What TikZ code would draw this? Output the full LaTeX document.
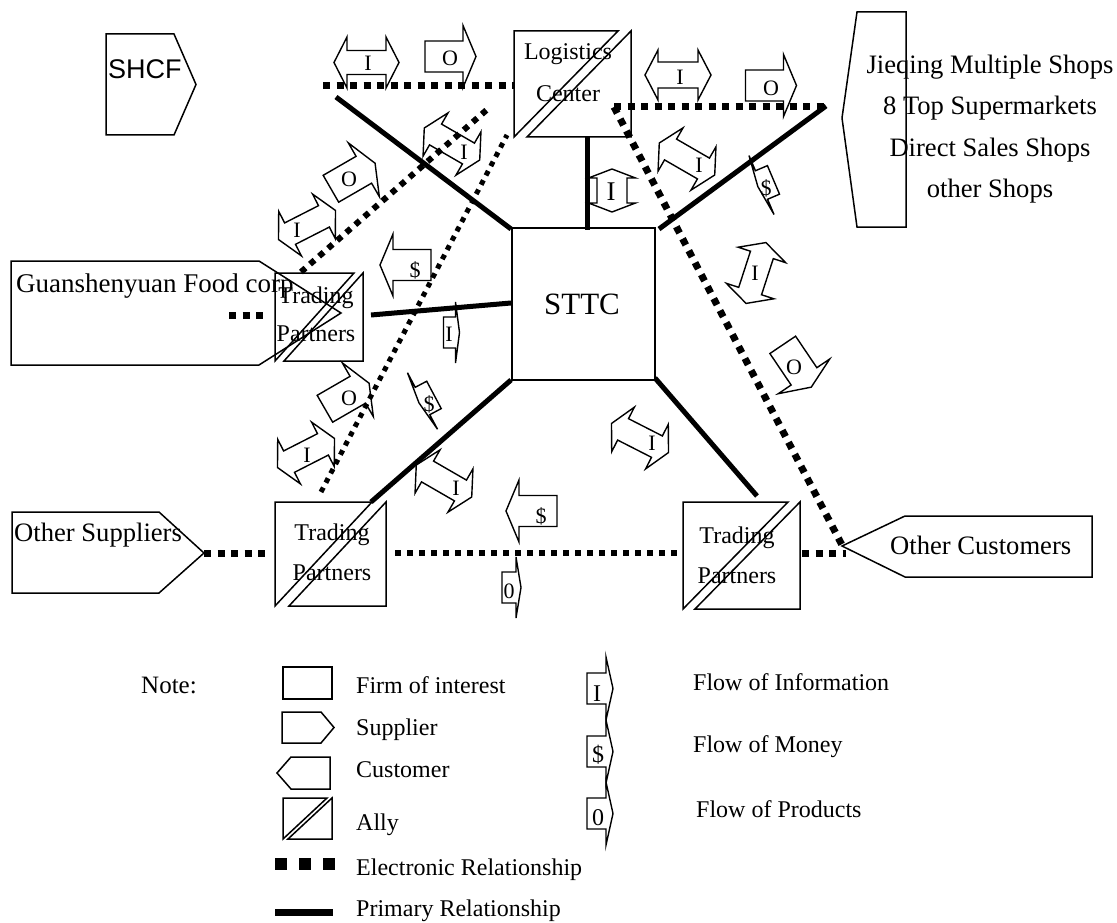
\documentclass[tikz,border=0pt]{standalone}
\usepackage{fontspec}
\setmainfont{Liberation Serif}
\newfontfamily\arialfont{Liberation Sans}
\newcommand\allyshape[2]{%
  \draw[shp] (#1.north west) -- ([xshift=-#2]#1.north east) -- (#1.south west) -- cycle;
  \draw[shp] (#1.north east) -- (#1.south east) -- ([xshift=#2]#1.south west) -- cycle;}
\tikzset{
  shp/.style={draw, line width=1.5pt, line join=miter},
  box/.style={draw=none, inner sep=0pt, outer sep=0pt},
  prim/.style={line width=5pt},
  elec/.style={line width=7pt, dash pattern=on 7pt off 6.5pt},
  elecm/.style={line width=6pt, dash pattern=on 6pt off 6pt},
  elecs/.style={line width=5pt, dash pattern=on 5pt off 5.5pt},
  flw/.style={draw, line width=1.4pt, line join=miter},
  flab/.style={font=\fontsize{22}{22}\selectfont, inner sep=0pt},
  big/.style={font=\fontsize{26.6}{28}\selectfont, inner sep=0pt},
  mid/.style={font=\fontsize{24}{26}\selectfont, inner sep=0pt},
  pics/dbl/.style n args={4}{code={\draw[flw] (-#1,0) -- (-#1+#2,-#3) -- (-#1+#2,-#4) -- (#1-#2,-#4) -- (#1-#2,-#3) -- (#1,0) -- (#1-#2,#3) -- (#1-#2,#4) -- (-#1+#2,#4) -- (-#1+#2,#3) -- cycle;}},
  pics/sgl/.style={code={\draw[flw] (-25.5,-15.5) -- (12.5,-15.5) -- (12.5,-31) -- (25.5,0) -- (12.5,31) -- (12.5,15.5) -- (-25.5,15.5) -- cycle;}},
  pics/slim/.style n args={3}{code={\draw[flw] (-#1,-15.5) -- (0,-15.5) -- (0,-#3) -- (#2,0) -- (0,#3) -- (0,15.5) -- (-#1,15.5) -- cycle;}},
}
\begin{document}
\begin{tikzpicture}[x=1pt,y=-1pt]
\fill[white] (0,0) rectangle (1117,923);
\useasboundingbox (0,0) rectangle (1117,923);

% ---------- suppliers / customers ----------
\draw[shp] (106,34) -- (174,34) -- (196,84.5) -- (174,135) -- (106,135) -- cycle;
\node[font=\arialfont\fontsize{27}{27}\selectfont, inner sep=0pt, anchor=base west] (shcf) at (108,79) {SHCF};

\draw[shp] (11,261) -- (259,261) -- (341,313) -- (259,365) -- (11,365) -- cycle;
\node[big, font=\fontsize{27}{28}\selectfont, anchor=base west] (guan) at (16,292) {Guanshenyuan Food corp};

\draw[shp] (12,512) -- (159,512) -- (204,553) -- (159,593) -- (12,593) -- cycle;
\node[big, anchor=base west] (osup) at (14,541) {Other Suppliers};

\draw[shp] (842,546) -- (905,516) -- (1092,516) -- (1092,577) -- (905,577) -- cycle;
\node[big, anchor=base west] (ocus) at (890,554) {Other Customers};

\draw[shp] (842,118) -- (857,12) -- (906,12) -- (906,227) -- (857,227) -- cycle;
\node[big, anchor=base] (jq1) at (990,74) {Jieqing Multiple Shops};
\node[big, anchor=base] (jq2) at (990,115) {8 Top Supermarkets};
\node[big, anchor=base] (jq3) at (990,157) {Direct Sales Shops};
\node[big, anchor=base] (jq4) at (990,197) {other Shops};

% ---------- firm and allies ----------
\node[shp, box, draw, minimum width=143pt, minimum height=152pt] (sttc) at (583.5,304) {};
\node[font=\fontsize{31}{31}\selectfont, inner sep=0pt, anchor=base] (sttct) at (582,314) {STTC};

\node[box, minimum width=117pt, minimum height=106pt] (lc) at (572.5,84) {};
\allyshape{lc}{13pt}
\node[mid, anchor=base] (lct1) at (568,60) {Logistics};
\node[mid, anchor=base] (lct2) at (568,102) {Center};

\node[box, minimum width=88pt, minimum height=88pt] (tpl) at (319,317) {};
\allyshape{tpl}{9pt}
\node[mid, anchor=base] (tplt1) at (316,303) {Trading};
\node[mid, anchor=base] (tplt2) at (316,341) {Partners};

\node[box, minimum width=111pt, minimum height=104pt] (tpbl) at (330.5,554) {};
\allyshape{tpbl}{14pt}
\node[mid, anchor=base] (tpblt1) at (332,540) {Trading};
\node[mid, anchor=base] (tpblt2) at (332,580) {Partners};

\node[box, minimum width=117pt, minimum height=107pt] (tpbr) at (741.5,555.5) {};
\allyshape{tpbr}{12pt}
\node[mid, anchor=base] (tpbrt1) at (737,543) {Trading};
\node[mid, anchor=base] (tpbrt2) at (737,583) {Partners};

% ---------- connector end points ----------
\coordinate (p1a) at (336,97);   \coordinate (p1b) at (511,229);
\coordinate (p2a) at (587,137);  \coordinate (p2b) at (587,230);
\coordinate (p3a) at (659,229);  \coordinate (p3b) at (826,106);
\coordinate (p4a) at (371,315);  \coordinate (p4b) at (511,303);
\coordinate (p5a) at (371,502);  \coordinate (p5b) at (511,380);
\coordinate (p6a) at (655,378);  \coordinate (p6b) at (757,496);

\coordinate (e1a) at (323,86);   \coordinate (e1b) at (514,86);
\coordinate (e2a) at (614,107);  \coordinate (e2b) at (828,107);
\coordinate (e3a) at (614,107);  \coordinate (e3b) at (842,545);
\coordinate (e4a) at (301,272);  \coordinate (e4b) at (490,107);
\coordinate (e5a) at (321,492);  \coordinate (e5b) at (507,135);
\coordinate (e6a) at (229,315);  \coordinate (e6b) at (268,315);
\coordinate (e7a) at (204,553);  \coordinate (e7b) at (268,553);
\coordinate (e8a) at (395,553);  \coordinate (e8b) at (678,553);
\coordinate (e9a) at (802,553);  \coordinate (e9b) at (846,553);

% primary relationships
\draw[prim] (p1a) -- (p1b);
\draw[prim] (p2a) -- (p2b);
\draw[prim] (p3a) -- (p3b);
\draw[prim] (p4a) -- (p4b);
\draw[prim] (p5a) -- (p5b);
\draw[prim] (p6a) -- (p6b);

% electronic relationships
\draw[elec] (e1a) -- (e1b);
\draw[elec] (e2a) -- (e2b);
\draw[elec] (e3a) -- (e3b);
\draw[elecm] (e4a) -- (e4b);
\draw[elecs] (e5a) -- (e5b);
\draw[elec] (e6a) -- (e6b);
\draw[elec] (e7a) -- (e7b);
\draw[elecm] (e8a) -- (e8b);
\draw[elec] (e9a) -- (e9b);

% ---------- flow arrows ----------
\pic at (366.5,62.5) {dbl={32.5}{13}{25.5}{12}};
\node[flab] (f1) at (368,63) {I};
\pic at (678,75) {dbl={33}{13}{25}{13}};
\node[flab] (f2) at (680,77) {I};
\pic[rotate=90] at (612,190.5) {dbl={21.5}{9}{23.5}{15}};
\node[flab, font=\fontsize{27}{27}\selectfont] (f3) at (611,192) {I};
\pic[rotate=-30] at (452,144) {dbl={32}{13}{25}{12}};
\node[flab] (f4) at (464,152) {I};
\pic[rotate=-30] at (687,159) {dbl={32}{13}{25}{12}};
\node[flab] (f5) at (699,165) {I};
\pic[rotate=72] at (756,273) {dbl={32}{13}{25}{12}};
\node[flab] (f6) at (755,273) {I};
\pic[rotate=27] at (307,225) {dbl={32}{13}{25}{12}};
\node[flab] (f7) at (297,230) {I};
\pic[rotate=27] at (306,453) {dbl={32}{13}{25}{12}};
\node[flab] (f8) at (307,455) {I};
\pic[rotate=-30] at (444,481) {dbl={32}{13}{25}{12}};
\node[flab] (f9) at (456,488) {I};
\pic[rotate=-27] at (640,438) {dbl={32}{13}{25}{12}};
\node[flab] (f10) at (652,443) {I};

\pic at (450.5,56.5) {sgl};
\node[flab] (f11) at (450,58) {O};
\pic at (771,85.5) {sgl};
\node[flab] (f12) at (771,88) {O};
\pic[rotate=180] at (405.5,265) {sgl};
\node[flab] (f13) at (415,270) {\$};
\pic[rotate=180] at (531.5,511) {sgl};
\node[flab] (f14) at (541,516) {\$};
\pic[rotate=30] at (353,176) {sgl};
\node[flab] (f15) at (349,179) {O};
\pic[rotate=30] at (347,396) {sgl};
\node[flab] (f16) at (349,398) {O};
\pic[rotate=-56] at (797,366) {sgl};
\node[flab] (f17) at (794,367) {O};

\pic at (455.5,332.5) {slim={12}{4}{30.5}};
\node[flab] (f18) at (449,334) {I};
\pic[rotate=-152] at (422.5,401) {slim={13}{4}{32}};
\node[flab] (f19) at (429,404) {\$};
\pic[rotate=-157] at (761.5,185) {slim={13}{4}{32}};
\node[flab] (f20) at (766,188) {\$};
\pic at (516,587.5) {slim={14}{5}{30.5}};
\node[flab] (f21) at (509,591) {0};

% ---------- legend ----------
\node[mid, font=\fontsize{25}{26}\selectfont, anchor=base west] (note) at (141,693) {Note:};

\node[shp, box, draw, minimum width=49pt, minimum height=32pt] (lgfirm) at (307.5,683) {};
\node[mid, anchor=base west] (lgt1) at (356,693) {Firm of interest};
\draw[shp] (282,712) -- (321,712) -- (334,727.5) -- (321,743) -- (282,743) -- cycle;
\node[mid, anchor=base west] (lgt2) at (356,735) {Supplier};
\draw[shp] (277,773) -- (291,757) -- (330,757) -- (330,789) -- (291,789) -- cycle;
\node[mid, anchor=base west] (lgt3) at (356,777) {Customer};
\node[box, minimum width=49pt, minimum height=41pt] (lgally) at (307.5,818.5) {};
\allyshape{lgally}{5pt}
\node[mid, anchor=base west] (lgt4) at (356,830) {Ally};
\coordinate (lge1) at (275,864); \coordinate (lge2) at (335,864);
\draw[line width=12pt, dash pattern=on 12pt off 12pt] (lge1) -- (lge2);
\node[mid, anchor=base west] (lgt5) at (356,875) {Electronic Relationship};
\coordinate (lgp1) at (275,912); \coordinate (lgp2) at (333,912);
\draw[line width=7pt] (lgp1) -- (lgp2);
\node[mid, anchor=base west] (lgt6) at (356,916) {Primary Relationship};

\pic at (606,688.5) {slim={19}{7}{31.5}};
\node[flab, font=\fontsize{24}{24}\selectfont] (lgf1) at (597,694) {I};
\pic at (606,751.5) {slim={19}{7}{31.5}};
\node[flab, font=\fontsize{24}{24}\selectfont] (lgf2) at (598,755) {\$};
\pic at (606,813.5) {slim={19}{7}{31.5}};
\node[flab, font=\fontsize{24}{24}\selectfont] (lgf3) at (598,818) {0};
\node[mid, anchor=base west] (lgt7) at (693,690) {Flow of Information};
\node[mid, anchor=base west] (lgt8) at (693,752) {Flow of Money};
\node[mid, anchor=base west] (lgt9) at (696,817) {Flow of Products};
\end{tikzpicture}
\end{document}
